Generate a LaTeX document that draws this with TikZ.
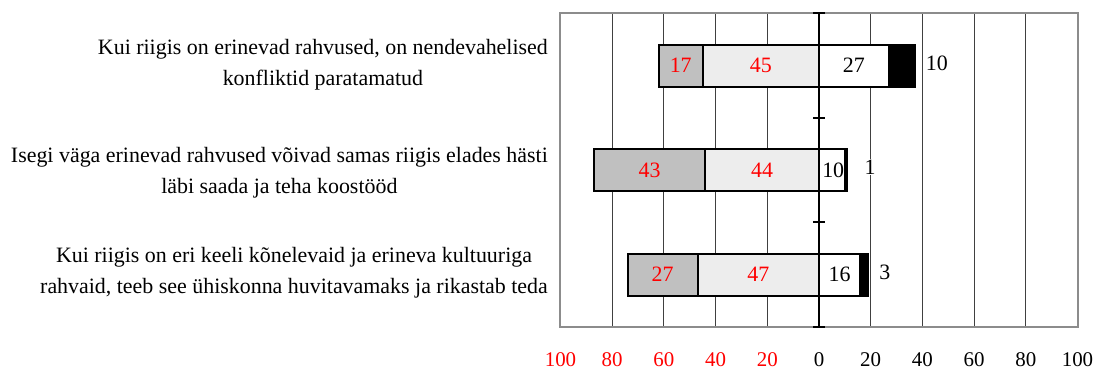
\documentclass[tikz,border=0pt]{standalone}
\usepackage{fontspec}
\setmainfont{Liberation Serif}
\definecolor{darkseg}{HTML}{C0C0C0}
\definecolor{lightseg}{HTML}{EDEDED}
\definecolor{framegray}{HTML}{8C8C8C}
\tikzset{
  catlbl/.style={font=\fontsize{22}{31}\selectfont, align=center, anchor=east, inner sep=0pt},
  neglbl/.style={font=\fontsize{22}{26}\selectfont, text=red, inner sep=1pt},
  poslbl/.style={font=\fontsize{22}{26}\selectfont, text=black, inner sep=1pt},
  outlbl/.style={font=\fontsize{22}{26}\selectfont, text=black, fill=white, inner sep=1pt, anchor=west},
  axlblneg/.style={font=\fontsize{21}{25}\selectfont, text=red, inner sep=0pt},
  axlblpos/.style={font=\fontsize{21}{25}\selectfont, text=black, inner sep=0pt},
  segbox/.style={draw=black, line width=2bp},
  gridln/.style={draw=black!75, line width=0.9bp},
  framebox/.style={draw=framegray, line width=1.4bp},
  axisln/.style={draw=black, line width=2bp},
}
\def\cx{819}
\def\un{2.585}
\begin{document}
\begin{tikzpicture}[x=1bp,y=-1bp]
\useasboundingbox (0,0) rectangle (1098,370);
% gridlines
\foreach \v in {-80,-60,-40,-20,20,40,60,80}
  \draw[gridln] ({\cx+\un*\v},13) -- ({\cx+\un*\v},327);
\draw[framebox] (560,13) rectangle (1078,327);

% bar 1: 17 45 | 27 10
\filldraw[segbox, fill=darkseg]  ({\cx-\un*62},44.5) rectangle ({\cx-\un*45},86.5);
\filldraw[segbox, fill=lightseg] ({\cx-\un*45},44.5) rectangle ({\cx},86.5);
\filldraw[segbox, fill=white]    ({\cx},44.5) rectangle ({\cx+\un*27},86.5);
\filldraw[segbox, fill=black]    ({\cx+\un*27},44.5) rectangle ({\cx+\un*37},86.5);
\node[neglbl] (v1a) at ({\cx-\un*53.5},65.5) {17};
\node[neglbl] (v1b) at ({\cx-\un*22.5},65.5) {45};
\node[poslbl] (v1c) at ({\cx+\un*13.5},65.5) {27};
\node[outlbl] (v1d) at ({\cx+\un*37+10},63) {10};

% bar 2: 43 44 | 10 1
\filldraw[segbox, fill=darkseg]  ({\cx-\un*87},149) rectangle ({\cx-\un*44},191);
\filldraw[segbox, fill=lightseg] ({\cx-\un*44},149) rectangle ({\cx},191);
\filldraw[segbox, fill=white]    ({\cx},149) rectangle ({\cx+\un*10},191);
\filldraw[segbox, fill=black]    ({\cx+\un*10},149) rectangle ({\cx+\un*11},191);
\node[neglbl] (v2a) at ({\cx-\un*65.5},170) {43};
\node[neglbl] (v2b) at ({\cx-\un*22},170) {44};
\node[poslbl] (v2c) at ({\cx+\un*5.5},170) {10};
\node[outlbl] (v2d) at ({\cx+\un*11+16},167) {1};

% bar 3: 27 47 | 16 3
\filldraw[segbox, fill=darkseg]  ({\cx-\un*74},253.5) rectangle ({\cx-\un*47},295.5);
\filldraw[segbox, fill=lightseg] ({\cx-\un*47},253.5) rectangle ({\cx},295.5);
\filldraw[segbox, fill=white]    ({\cx},253.5) rectangle ({\cx+\un*16},295.5);
\filldraw[segbox, fill=black]    ({\cx+\un*16},253.5) rectangle ({\cx+\un*19},295.5);
\node[neglbl] (v3a) at ({\cx-\un*60.5},274.5) {27};
\node[neglbl] (v3b) at ({\cx-\un*23.5},274.5) {47};
\node[poslbl] (v3c) at ({\cx+\un*8},274.5) {16};
\node[outlbl] (v3d) at ({\cx+\un*19+10},272) {3};

% center axis with ticks
\coordinate (axtop) at (\cx,13);
\coordinate (axbot) at (\cx,327);
\draw[axisln] (axtop) -- (axbot);
\foreach \y in {13,118,222,327}
  \draw[black, line width=1.5bp] ({\cx-6},\y) -- ({\cx+6},\y);

% category labels
\node[catlbl] (c1) at (548,65) {Kui riigis on erinevad rahvused, on nendevahelised\\konfliktid paratamatud};
\node[catlbl] (c2) at (548,173) {Isegi väga erinevad rahvused võivad samas riigis elades hästi\\läbi saada ja teha koostööd};
\node[catlbl] (c3) at (548,272.5) {Kui riigis on eri keeli kõnelevaid ja erineva kultuuriga\\rahvaid, teeb see ühiskonna huvitavamaks ja rikastab teda};

% axis labels
\foreach \v/\n in {100/a,80/b,60/c,40/d,20/e}
  \node[axlblneg] (xl\n) at ({\cx-\un*\v},360) {\v};
\foreach \v/\n in {0/f,20/g,40/h,60/i,80/j,100/k}
  \node[axlblpos] (xl\n) at ({\cx+\un*\v},360) {\v};
\end{tikzpicture}
\end{document}
